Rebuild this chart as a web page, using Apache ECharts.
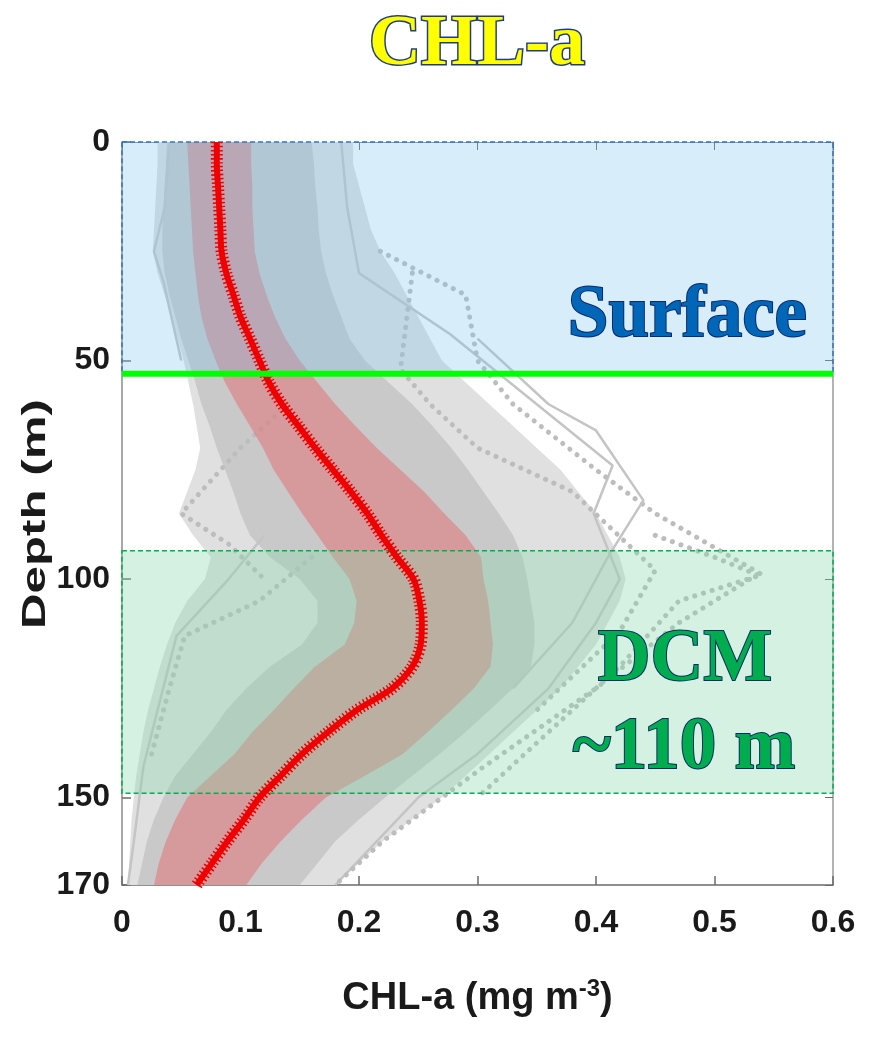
<!DOCTYPE html>
<html><head><meta charset="utf-8">
<script src="https://cdn.jsdelivr.net/npm/echarts@6/dist/echarts.min.js"></script>
<style>html,body{margin:0;padding:0;background:#fff}#c{width:871px;height:1038px}</style>
</head><body><div id="c"></div>
<script>
// ---------------- data ----------------
const depths = [0,5,10,15,20,25,30,35,40,45,50,55,60,65,70,75,80,85,90,95,100,105,110,115,120,125,130,135,140,145,150,155,160,165,170];
const meanChl = [0.080,0.080,0.081,0.082,0.083,0.084,0.088,0.094,0.100,0.108,0.116,0.124,0.135,0.149,0.163,0.178,0.193,0.207,0.219,0.232,0.246,0.251,0.253,0.252,0.245,0.228,0.198,0.174,0.152,0.134,0.116,0.103,0.089,0.076,0.063];
const sdLow  = [0.055,0.056,0.057,0.058,0.059,0.060,0.062,0.064,0.067,0.072,0.079,0.087,0.097,0.108,0.119,0.128,0.140,0.152,0.165,0.178,0.192,0.198,0.196,0.188,0.163,0.145,0.128,0.110,0.095,0.075,0.055,0.045,0.037,0.031,0.027];
const sdHigh = [0.109,0.109,0.110,0.110,0.111,0.112,0.116,0.122,0.129,0.138,0.150,0.165,0.180,0.197,0.215,0.235,0.255,0.272,0.290,0.303,0.305,0.309,0.311,0.313,0.311,0.297,0.278,0.258,0.237,0.205,0.172,0.152,0.134,0.118,0.105];
const denseLow  = [0.038,0.037,0.036,0.035,0.034,0.034,0.036,0.040,0.045,0.050,0.056,0.062,0.067,0.074,0.080,0.087,0.094,0.100,0.108,0.125,0.150,0.165,0.165,0.152,0.125,0.105,0.088,0.075,0.060,0.045,0.035,0.027,0.021,0.017,0.013];
const denseHigh = [0.160,0.162,0.163,0.165,0.166,0.168,0.172,0.178,0.185,0.192,0.205,0.225,0.245,0.262,0.278,0.292,0.305,0.318,0.330,0.338,0.342,0.345,0.348,0.348,0.345,0.330,0.310,0.290,0.268,0.245,0.222,0.200,0.180,0.165,0.150];
const spreadLow  = [0.030,0.030,0.029,0.028,0.027,0.026,0.030,0.036,0.042,0.047,0.052,0.056,0.060,0.063,0.066,0.062,0.055,0.048,0.060,0.075,0.070,0.055,0.045,0.038,0.032,0.027,0.022,0.018,0.015,0.012,0.010,0.008,0.007,0.006,0.005];
const spreadHigh = [0.195,0.195,0.200,0.205,0.210,0.218,0.230,0.240,0.250,0.260,0.270,0.290,0.310,0.330,0.350,0.370,0.385,0.400,0.410,0.420,0.425,0.420,0.410,0.400,0.385,0.370,0.350,0.330,0.310,0.290,0.270,0.245,0.220,0.200,0.180];

// a few individual profiles [chl, depth]
const profileA = [[0.185,0],[0.190,15],[0.200,30],[0.277,44],[0.350,60],[0.414,74],[0.398,85],[0.420,100],[0.400,110],[0.360,125],[0.300,140],[0.250,150],[0.180,170]];
const profileB = [[0.218,25],[0.290,35],[0.300,50],[0.330,60],[0.400,75],[0.450,85],[0.540,99],[0.470,105],[0.420,120],[0.360,135],[0.300,150]];
const profileC = [[0.300,45],[0.360,60],[0.400,66],[0.440,82],[0.410,95],[0.380,110],[0.330,125]];
const profileD = [[0.140,60],[0.100,70],[0.050,85],[0.090,92],[0.120,100]];
const profileE = [[0.120,90],[0.090,100],[0.046,113],[0.030,130],[0.018,143],[0.010,160],[0.005,170]];
const profileF = [[0.160,95],[0.116,105],[0.053,113],[0.040,125],[0.025,140]];
const profileG = [[0.040,0],[0.036,15],[0.027,25],[0.035,32],[0.050,50]];
const profileH = [[0.450,90],[0.500,95],[0.536,99],[0.470,110],[0.400,125],[0.305,143],[0.270,150],[0.220,160],[0.180,170]];
const profileI = [[0.245,30],[0.235,52],[0.260,60],[0.300,70],[0.380,80],[0.450,98],[0.420,112],[0.350,130]];

const surfaceBox = [0, 0, 0.6, 53];
const dcmBox = [0, 93.5, 0.6, 149];
const surfaceLine = 53;
const xMin = 0, xMax = 0.6, xStep = 0.1;
const yMin = 0, yMax = 170, yStep = 50;

// ---------------- chart ----------------
const chart = echarts.init(document.getElementById('c'), null, {renderer:'canvas'});
const meanData = depths.map((d,i)=>[meanChl[i], d]);

function band(name, low, high, fill, z){
  return {
    type:'custom', name, z, silent:true, data:[[0,0]], clip:true,
    renderItem:function(params, api){
      const pts=[];
      for(let i=0;i<depths.length;i++) pts.push(api.coord([low[i], depths[i]]));
      for(let i=depths.length-1;i>=0;i--) pts.push(api.coord([high[i], depths[i]]));
      return {type:'polygon', shape:{points:pts}, style:{fill:fill}};
    }
  };
}
function profile(data, dotted){
  return {
    type:'line', data, z:3, silent:true, symbol:'none', smooth:false,
    lineStyle: dotted ? {color:'#bdbdbd', width:5, type:[0.1,9], cap:'round'} : {color:'#c4c4c4', width:2.5}
  };
}
const boxStyles = [
  {fill:'rgba(121,198,238,0.30)', stroke:'#2e75c6'},
  {fill:'rgba(135,215,169,0.35)', stroke:'#00b050'}
];
const sans = '"Liberation Sans",Arial,Helvetica,sans-serif';
const serif = '"Liberation Serif","Times New Roman",serif';

const option = {
  animation:false,
  backgroundColor:'#ffffff',
  title:{
    text:'CHL-a', left:472, top:4, textAlign:'center',
    textStyle:{fontFamily:serif, fontWeight:'bold', fontSize:72,
      color:'#ffff00', textBorderColor:'#1f3c88', textBorderWidth:3}
  },
  grid:{left:122, right:38, top:142, bottom:153, containLabel:false},
  xAxis:[
    {type:'value', position:'bottom', min:xMin, max:xMax, interval:xStep,
     axisLine:{show:true, onZero:false, lineStyle:{color:'#6b6b6b', width:1.5}},
     axisTick:{show:true, inside:true, length:9, lineStyle:{color:'#6b6b6b', width:1.5}},
     splitLine:{show:false},
     axisLabel:{margin:22, color:'#1a1a1a', fontSize:32, fontWeight:'bold', fontFamily:sans},
     name:'CHL-a (mg m{sup|-3})', nameLocation:'middle', nameGap:92,
     nameTextStyle:{fontSize:38, fontWeight:'bold', color:'#1a1a1a', fontFamily:sans,
       rich:{sup:{fontSize:24, fontWeight:'bold', color:'#1a1a1a', fontFamily:sans, verticalAlign:'top', padding:[0,0,20,0]}}}
    },
    {type:'value', position:'top', min:xMin, max:xMax, interval:xStep,
     axisLine:{show:true, onZero:false, lineStyle:{color:'#8a8a8a', width:1}},
     axisTick:{show:true, inside:true, length:8, lineStyle:{color:'#6b6b6b'}},
     axisLabel:{show:false}, splitLine:{show:false}}
  ],
  yAxis:[
    {type:'value', position:'left', inverse:true, min:yMin, max:yMax, interval:yStep,
     axisLine:{show:true, onZero:false, lineStyle:{color:'#8a8a8a', width:1.5}},
     axisTick:{show:true, inside:true, length:9, lineStyle:{color:'#6b6b6b', width:1.5}},
     splitLine:{show:false},
     axisLabel:{margin:12, color:'#1a1a1a', fontSize:32, fontWeight:'bold', fontFamily:sans}
    },
    {type:'value', position:'right', inverse:true, min:yMin, max:yMax, interval:yStep,
     axisLine:{show:true, onZero:false, lineStyle:{color:'#9a9a9a', width:1.5}},
     axisTick:{show:true, inside:true, length:8, lineStyle:{color:'#6b6b6b'}},
     axisLabel:{show:false}, splitLine:{show:false}}
  ],
  graphic:[
    {type:'text', x:36, y:514, rotation:Math.PI/2, scaleX:1.45, z:100,
     style:{text:'Depth (m)', fontSize:34, fontWeight:'bold', fontFamily:sans,
       fill:'#1a1a1a', textAlign:'center', textVerticalAlign:'middle', align:'center', verticalAlign:'middle'}},
    {type:'text', x:807, y:317, z:100,
     style:{text:'Surface', fontSize:73, fontWeight:'bold', fontFamily:serif,
       fill:'#0066b8', stroke:'#0d2a6a', lineWidth:2, textAlign:'right', textVerticalAlign:'middle', align:'right', verticalAlign:'middle'}},
    {type:'text', x:685, y:661, z:100,
     style:{text:'DCM', fontSize:73, fontWeight:'bold', fontFamily:serif,
       fill:'#00ad4e', stroke:'#0d2a6a', lineWidth:2, textAlign:'center', textVerticalAlign:'middle', align:'center', verticalAlign:'middle'}},
    {type:'text', x:684, y:749, z:100,
     style:{text:'~110 m', fontSize:73, fontWeight:'bold', fontFamily:serif,
       fill:'#00ad4e', stroke:'#0d2a6a', lineWidth:2, textAlign:'center', textVerticalAlign:'middle', align:'center', verticalAlign:'middle'}}
  ],
  series:[
    band('spread', spreadLow, spreadHigh, '#e0e0e0', 1),
    band('dense', denseLow, denseHigh, '#c9c9c9', 2),
    profile(profileA,false), profile(profileB,true), profile(profileC,false),
    profile(profileD,true), profile(profileE,false), profile(profileF,true),
    profile(profileG,false), profile(profileH,true), profile(profileI,true),
    band('sd', sdLow, sdHigh, 'rgba(228,108,114,0.5)', 4),
    {type:'custom', name:'boxes', z:5, silent:true,
     data:[surfaceBox, dcmBox],
     renderItem:function(params, api){
       const p0 = api.coord([api.value(0), api.value(1)]);
       const p1 = api.coord([api.value(2), api.value(3)]);
       const st = boxStyles[params.dataIndex];
       return {type:'rect', shape:{x:p0[0], y:p0[1], width:p1[0]-p0[0], height:p1[1]-p0[1]},
         style:{fill:st.fill, stroke:st.stroke, lineWidth:1.5, lineDash:[5,3]}};
     }},
    // mean profile: solid core plus a spiky dashed halo imitating the asterisk markers
    {type:'line', name:'mean', z:6, data:meanData, smooth:0.3, symbol:'none', silent:true,
     lineStyle:{color:'#f00000', width:6}},
    {type:'line', name:'meanMarks', z:6, data:meanData, smooth:0.3, symbol:'none', silent:true,
     lineStyle:{color:'#ee0000', width:12, type:[1.5,2.5]}},
    {type:'line', name:'surface', z:7, silent:true, symbol:'none',
     data:[[xMin, surfaceLine],[xMax, surfaceLine]],
     lineStyle:{color:'#00ff00', width:6}}
  ]
};
chart.setOption(option);
</script></body></html>
